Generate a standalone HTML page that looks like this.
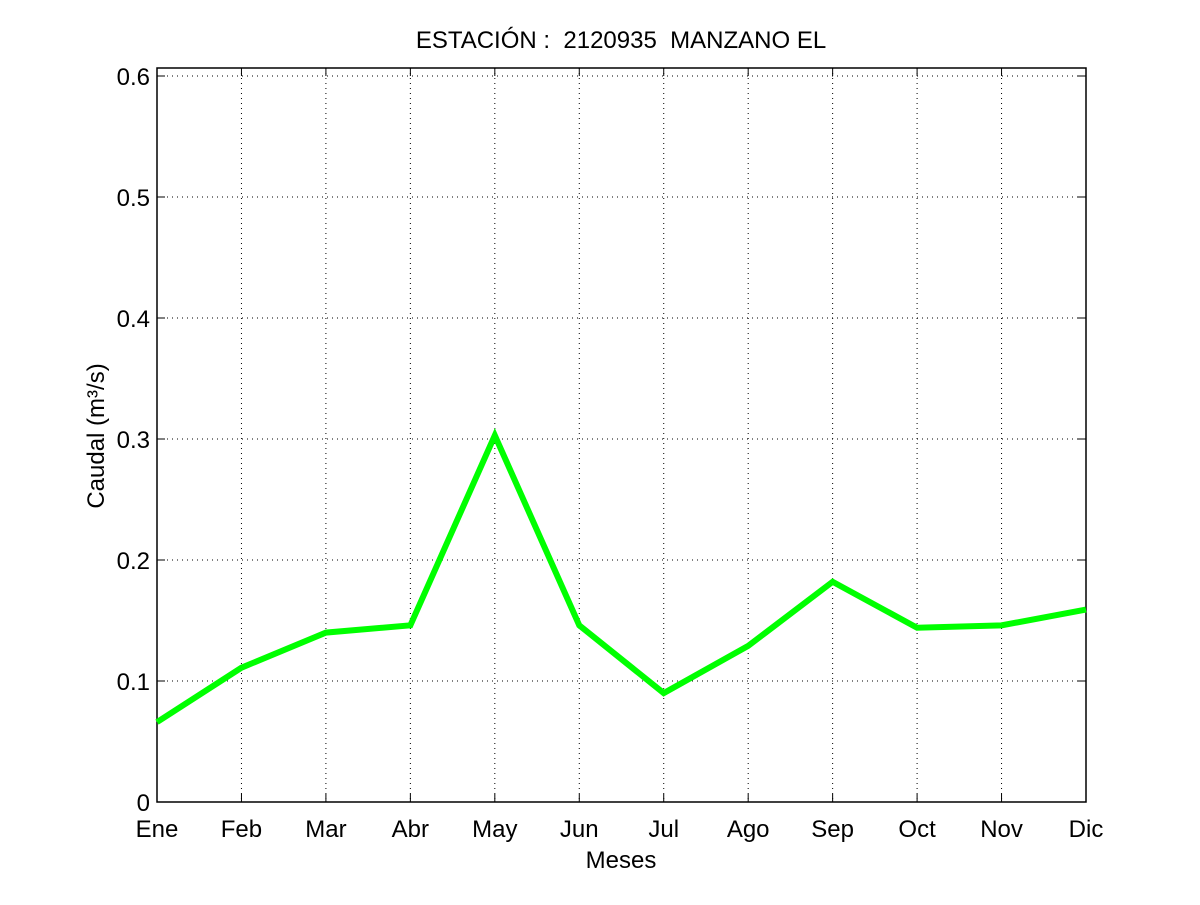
<!DOCTYPE html>
<html><head><meta charset="utf-8"><style>body{margin:0;background:#fff}svg text{font-family:"Liberation Sans",sans-serif;fill:#000}</style></head>
<body>
<svg width="1200" height="900">
<g id="g"></g>
</svg>
<script>
const months=["Ene","Feb","Mar","Abr","May","Jun","Jul","Ago","Sep","Oct","Nov","Dic"];
const caudal=[0.066,0.111,0.140,0.146,0.303,0.146,0.090,0.129,0.182,0.144,0.146,0.159];
const yTicks=[0,0.1,0.2,0.3,0.4,0.5,0.6];
const yTickLabels=["0","0.1","0.2","0.3","0.4","0.5","0.6"];
const L=157,R=1086,T=68,B=802;
const x=i=>L+i*(R-L)/(months.length-1);
const y=v=>B-v*1210;
const g=document.getElementById('g');const NS="http://www.w3.org/2000/svg";
function mk(t,a,txt){const e=document.createElementNS(NS,t);for(const k in a)e.setAttribute(k,a[k]);if(txt!=null)e.textContent=txt;g.appendChild(e);return e;}
months.forEach((m,i)=>{
 if(i>0&&i<months.length-1){const l=mk('line',{x1:x(i),x2:x(i),y1:T,y2:B,stroke:'#000','stroke-dasharray':'1,4'});
 
 }
 const a=mk('line',{x1:x(i),x2:x(i),y1:B,y2:B-8,stroke:'#000'});
 
 
 const b=mk('line',{x1:x(i),x2:x(i),y1:T,y2:T+8,stroke:'#000'});
 
 
 const t=mk('text',{x:x(i),y:837,'text-anchor':'middle','font-size':24},m);
 
 
});
yTicks.forEach((v,i)=>{
 if(i>0){const l=mk('line',{x1:L,x2:R,y1:y(v),y2:y(v),stroke:'#000','stroke-dasharray':'1,4'});
 
 }
 const a=mk('line',{x1:L,x2:L+8,y1:y(v),y2:y(v),stroke:'#000'});
 
 
 const b=mk('line',{x1:R,x2:R-8,y1:y(v),y2:y(v),stroke:'#000'});
 
 
 const t=mk('text',{x:150,y:y(v)+9,'text-anchor':'end','font-size':24},yTickLabels[i]);
 
 
});
const box=mk('rect',{x:L,y:T,width:R-L,height:B-T,fill:'none',stroke:'#000','stroke-width':1.5});


const p=mk('polyline',{points:caudal.map((v,i)=>x(i)+','+y(v)).join(' '),fill:'none',stroke:'#00ff00','stroke-width':6,'stroke-linejoin':'miter'});


const ti=mk('text',{x:621,y:48,'text-anchor':'middle','font-size':24},'ESTACIÓN :  2120935  MANZANO EL');


ti.setAttribute('xml:space','preserve');ti.style.whiteSpace='pre';
const xl=mk('text',{x:621,y:868,'text-anchor':'middle','font-size':24},'Meses');


const yl=mk('text',{x:0,y:0,'text-anchor':'middle','font-size':24,transform:'translate(104,436) rotate(-90)'},'Caudal (m³/s)');


</script>
</body></html>
